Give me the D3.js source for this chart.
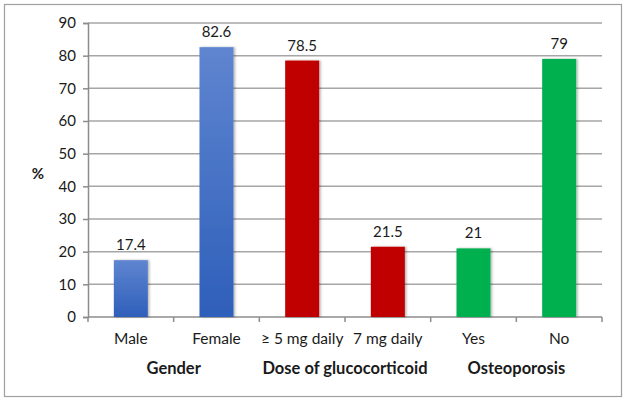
<!DOCTYPE html>
<html>
<head>
<meta charset="utf-8">
<script src="https://cdn.jsdelivr.net/npm/d3@7"></script>
<style>
  body { margin: 0; background: #fff; }
  text { font-family: Lato, "Open Sans", sans-serif; fill: #1a1a1a; }
</style>
</head>
<body>
<div id="chart"></div>
<script>
var categories = ["Male", "Female", "\u2265 5 mg daily", "7 mg daily", "Yes", "No"],
    values = [17.4, 82.6, 78.5, 21.5, 21, 79],
    labels = ["17.4", "82.6", "78.5", "21.5", "21", "79"],
    groups = ["Gender", "Gender", "Dose", "Dose", "Osteo", "Osteo"],
    groupNames = ["Gender", "Dose of glucocorticoid", "Osteoporosis"],
    groupKeys = ["Gender", "Dose", "Osteo"],
    yTicks = [0, 10, 20, 30, 40, 50, 60, 70, 80, 90];

var width = 628, height = 403,
    plotLeft = 88, plotRight = 602, plotTop = 23, plotBottom = 317;

var svg = d3.select("#chart").append("svg")
    .attr("width", width).attr("height", height);

var defs = svg.append("defs");
var grad = defs.append("linearGradient").attr("id", "blueGrad")
    .attr("x1", 0).attr("y1", 0).attr("x2", 0).attr("y2", 1);
grad.append("stop").attr("offset", "0%").attr("stop-color", "#5f85d0");
grad.append("stop").attr("offset", "100%").attr("stop-color", "#2e5fba");
var filt = defs.append("filter").attr("id", "shadow")
    .attr("x", "-20%").attr("y", "-5%").attr("width", "150%").attr("height", "120%");
filt.append("feDropShadow").attr("dx", 1.5).attr("dy", 0).attr("stdDeviation", 1.2)
    .attr("flood-color", "#000").attr("flood-opacity", 0.3);

var fills = { Gender: "url(#blueGrad)", Dose: "#c00000", Osteo: "#00b050" };

// outer frame
svg.append("rect").attr("x", 4.5).attr("y", 4.5).attr("width", 617).attr("height", 392)
    .attr("fill", "none").attr("stroke", "#a0a0a0").attr("stroke-width", 1.2);

var x = d3.scaleBand().domain(categories).range([plotLeft, plotRight]).paddingInner(0).paddingOuter(0);
var y = d3.scaleLinear().domain([0, 90]).range([plotBottom, plotTop]);

// gridlines
svg.append("g").selectAll("line").data(yTicks.slice(1)).enter().append("line")
    .attr("x1", plotLeft).attr("x2", plotRight)
    .attr("y1", function(d) { return y(d); }).attr("y2", function(d) { return y(d); })
    .attr("stroke", "#a6a6a6").attr("stroke-width", 1.5);

// y axis
var yAxis = svg.append("g").attr("transform", "translate(" + plotLeft + ",0)")
    .call(d3.axisLeft(y).tickValues(yTicks).tickSize(5).tickPadding(7));
yAxis.select(".domain").attr("stroke", "#8c8c8c").attr("stroke-width", 1.5);
yAxis.selectAll(".tick line").attr("stroke", "#8c8c8c").attr("stroke-width", 1.5);
yAxis.selectAll(".tick text").style("font-family", "Lato, sans-serif").style("font-size", "15px").attr("fill", "#1a1a1a");

// x axis baseline and ticks between bands
var xAxis = svg.append("g");
xAxis.append("line").attr("x1", plotLeft).attr("x2", plotRight)
    .attr("y1", plotBottom).attr("y2", plotBottom)
    .attr("stroke", "#8c8c8c").attr("stroke-width", 1.5);
var bounds = categories.map(function(c) { return x(c); }).concat([plotRight]);
xAxis.selectAll("line.tk").data(bounds).enter().append("line").attr("class", "tk")
    .attr("x1", function(d) { return d; }).attr("x2", function(d) { return d; })
    .attr("y1", plotBottom).attr("y2", plotBottom + 5)
    .attr("stroke", "#8c8c8c").attr("stroke-width", 1.5);

// bars
var barW = 34;
svg.append("g").selectAll("rect").data(values).enter().append("rect")
    .attr("x", function(d, i) { return x(categories[i]) + x.bandwidth() / 2 - barW / 2; })
    .attr("y", function(d) { return y(d); })
    .attr("width", barW)
    .attr("height", function(d) { return plotBottom - y(d); })
    .attr("fill", function(d, i) { return fills[groups[i]]; })
    .attr("filter", "url(#shadow)");

// value labels
svg.append("g").selectAll("text").data(values).enter().append("text")
    .attr("x", function(d, i) { return x(categories[i]) + x.bandwidth() / 2; })
    .attr("y", function(d) { return y(d) - 10; })
    .attr("text-anchor", "middle").style("font-size", "15px")
    .text(function(d, i) { return labels[i]; });

// category labels
svg.append("g").selectAll("text").data(categories).enter().append("text")
    .attr("x", function(d) { return x(d) + x.bandwidth() / 2; })
    .attr("y", 344)
    .attr("text-anchor", "middle").style("font-size", "15.5px")
    .text(function(d) { return d; });

// group labels
svg.append("g").selectAll("text").data(groupKeys).enter().append("text")
    .attr("x", function(d) {
        var idx = groups.map(function(g, i) { return g === d ? i : -1; }).filter(function(i) { return i >= 0; });
        return (x(categories[idx[0]]) + x(categories[idx[idx.length - 1]]) + x.bandwidth()) / 2;
    })
    .attr("y", 374)
    .attr("text-anchor", "middle").style("font-size", "16.5px").style("font-weight", "bold")
    .text(function(d, i) { return groupNames[i]; });

// y axis title
svg.append("text").attr("x", 38).attr("y", 179)
    .attr("text-anchor", "middle").style("font-size", "15px").style("font-weight", "bold")
    .text("%");
</script>
</body>
</html>
